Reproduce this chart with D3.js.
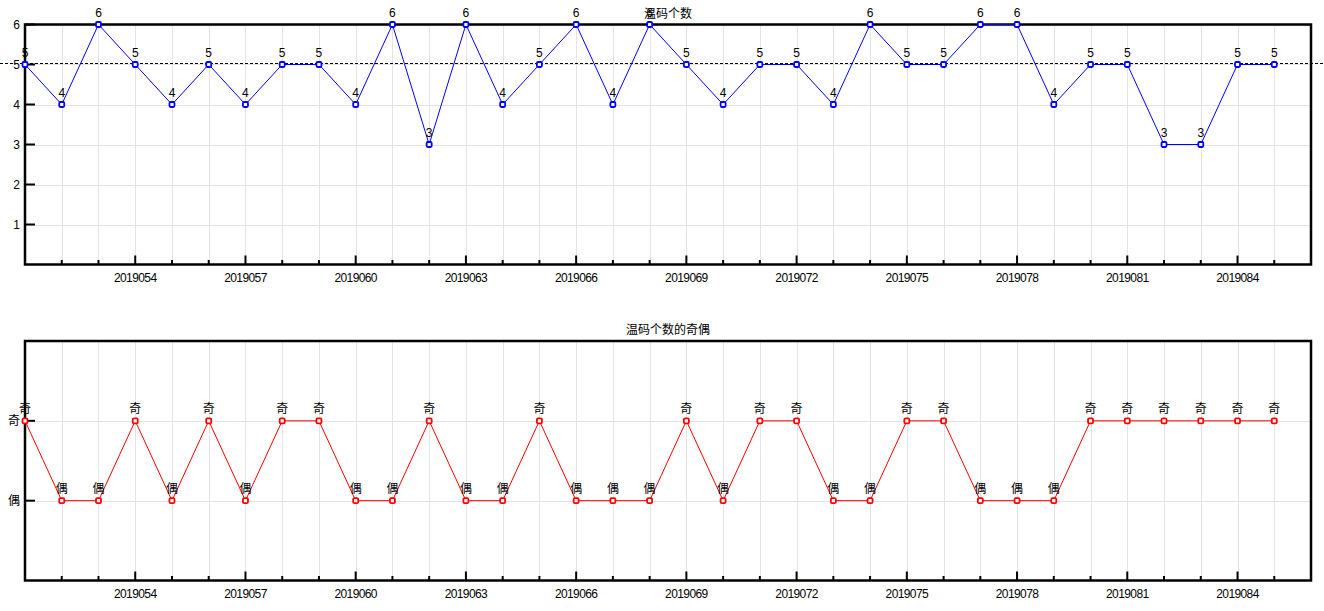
<!DOCTYPE html>
<html><head><meta charset="utf-8">
<script src="https://cdn.jsdelivr.net/npm/d3@7"></script>
<style>body{margin:0;background:#fff}svg{display:block}text{font-family:"Liberation Sans","DejaVu Sans","Noto Sans CJK SC",sans-serif;font-size:12px;fill:#000}</style>
</head><body><svg id="c" width="1324" height="611"></svg>
<script>
const periods = d3.range(2019051, 2019086);
const counts = [5,4,6,5,4,5,4,5,5,4,6,3,6,4,5,6,4,6,5,4,5,5,4,6,5,5,6,6,4,5,5,3,3,5,5];
const parityNames = ["偶","奇"];
const topTitle = "温码个数";
const bottomTitle = "温码个数的奇偶";
const refLine = 5.05;
const yTicksTop = [1,2,3,4,5,6];
const xLabelTicks = [2019054,2019057,2019060,2019063,2019066,2019069,2019072,2019075,2019078,2019081,2019084];

const svg = d3.select("#c");
const L = 25, R = 1311;
const x = d3.scaleLinear().domain([2019051, 2019086]).range([L, R]);
const cjk = '"Noto Sans CJK SC",sans-serif';

function panel(top, bottom, yScale, yTickVals, yFmt, yFont, data, color, labelFmt, labelFont, title, titleY, dashed) {
  const g = svg.append("g");
  g.selectAll(".vg").data(periods.slice(1)).join("line")
    .attr("x1", d => Math.round(x(d)) + 0.5).attr("x2", d => Math.round(x(d)) + 0.5)
    .attr("y1", top).attr("y2", bottom).attr("stroke", "#e3e3e3").attr("stroke-width", 1);
  g.selectAll(".hg").data(yTickVals).join("line")
    .attr("x1", L).attr("x2", R)
    .attr("y1", d => Math.round(yScale(d)) + 0.5).attr("y2", d => Math.round(yScale(d)) + 0.5)
    .attr("stroke", "#e3e3e3").attr("stroke-width", 1);
  g.append("text").attr("x", 668).attr("y", titleY).attr("text-anchor", "middle")
    .style("font-family", cjk).text(title);
  g.append("rect").attr("x", L).attr("y", top).attr("width", R - L).attr("height", bottom - top)
    .attr("fill", "none").attr("stroke", "#000").attr("stroke-width", 2.5);
  g.selectAll(".yt").data(yTickVals).join("line")
    .attr("x1", L).attr("x2", L + 10)
    .attr("y1", d => yScale(d)).attr("y2", d => yScale(d)).attr("stroke", "#000").attr("stroke-width", 2);
  g.selectAll(".yl").data(yTickVals).join("text")
    .attr("x", 20).attr("y", d => yScale(d)).attr("dy", "0.35em").attr("text-anchor", "end")
    .style("font-family", yFont).text(yFmt);
  g.selectAll(".xt").data(periods.slice(1)).join("line")
    .attr("x1", d => x(d)).attr("x2", d => x(d))
    .attr("y1", bottom).attr("y2", d => bottom - (xLabelTicks.includes(d) ? 9 : 4.5))
    .attr("stroke", "#000").attr("stroke-width", 2);
  g.selectAll(".xl").data(xLabelTicks).join("text")
    .attr("x", d => x(d)).attr("y", bottom + 13).attr("dy", "0.35em").attr("text-anchor", "middle")
    .style("letter-spacing", "-0.6px").text(d => d);
  if (dashed !== undefined) {
    g.append("line").attr("x1", 0).attr("x2", 1324)
      .attr("y1", Math.round(yScale(dashed)) + 0.5).attr("y2", Math.round(yScale(dashed)) + 0.5)
      .attr("stroke", "#000").attr("stroke-dasharray", "3,2");
  }
  g.append("path").datum(data)
    .attr("d", d3.line().x(d => x(d.p)).y(d => yScale(d.v)))
    .attr("fill", "none").attr("stroke", color).attr("stroke-width", 1);
  g.selectAll(".mk").data(data).join("rect")
    .attr("x", d => x(d.p) - 2.5).attr("y", d => yScale(d.v) - 2.5)
    .attr("width", 5).attr("height", 5).attr("rx", 1.2)
    .attr("fill", "#fff").attr("stroke", color).attr("stroke-width", 1.8);
  g.selectAll(".vl").data(data).join("text")
    .attr("x", d => x(d.p)).attr("y", d => yScale(d.v) - 8).attr("text-anchor", "middle")
    .style("font-family", labelFont).text(labelFmt);
}

const yTop = d3.scaleLinear().domain([0, 6]).range([264.5, 24.5]);
const topData = periods.map((p, i) => ({p, v: counts[i]}));
panel(24.5, 264.5, yTop, yTicksTop, d => d, '"Liberation Sans",sans-serif', topData, "#0000ff", d => d.v, '"Liberation Sans",sans-serif', topTitle, 18, refLine);

const yBot = d3.scaleLinear().domain([0, 3]).range([580.5, 341]);
const botData = periods.map((p, i) => ({p, v: counts[i] % 2 === 1 ? 2 : 1}));
panel(341, 580.5, yBot, [1, 2], d => parityNames[d - 1], cjk, botData, "#ff0000", d => parityNames[d.v - 1], cjk, bottomTitle, 334);
</script></body></html>
